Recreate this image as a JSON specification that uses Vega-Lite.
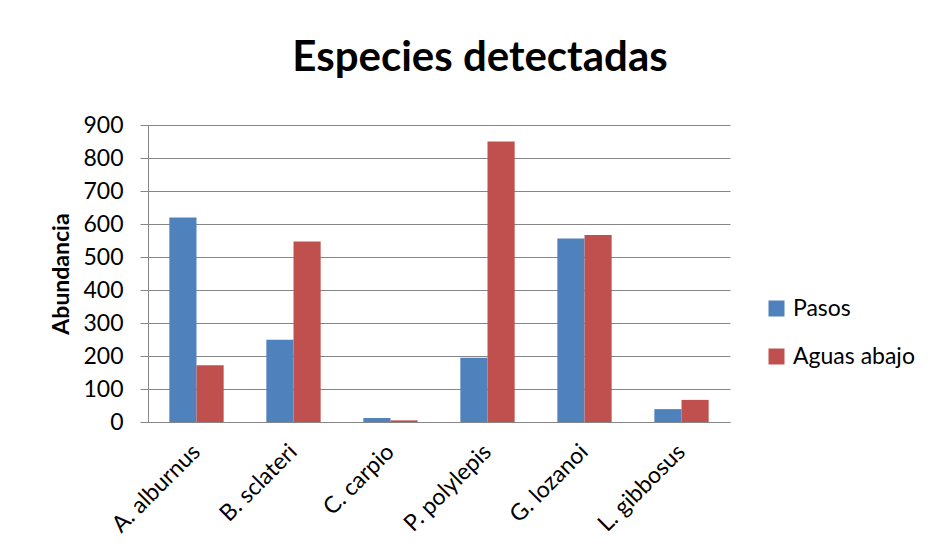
{
  "$schema": "https://vega.github.io/schema/vega-lite/v6.json",
  "autosize": {"type": "none"},
  "width": 582,
  "height": 297,
  "padding": {"left": 148, "top": 125, "right": 209, "bottom": 138},
  "background": "white",
  "title": {
    "text": "Especies detectadas",
    "font": "Lato",
    "fontSize": 42,
    "fontWeight": "bold",
    "color": "black",
    "anchor": "middle",
    "frame": "group",
    "dx": 41,
    "offset": 34
  },
  "data": {
    "values": [
      {"especie": "A. alburnus", "serie": "Pasos", "valor": 620},
      {"especie": "A. alburnus", "serie": "Aguas abajo", "valor": 172},
      {"especie": "B. sclateri", "serie": "Pasos", "valor": 249},
      {"especie": "B. sclateri", "serie": "Aguas abajo", "valor": 547},
      {"especie": "C. carpio", "serie": "Pasos", "valor": 12},
      {"especie": "C. carpio", "serie": "Aguas abajo", "valor": 5},
      {"especie": "P. polylepis", "serie": "Pasos", "valor": 195},
      {"especie": "P. polylepis", "serie": "Aguas abajo", "valor": 850},
      {"especie": "G. lozanoi", "serie": "Pasos", "valor": 556},
      {"especie": "G. lozanoi", "serie": "Aguas abajo", "valor": 567},
      {"especie": "L. gibbosus", "serie": "Pasos", "valor": 39},
      {"especie": "L. gibbosus", "serie": "Aguas abajo", "valor": 67}
    ]
  },
  "mark": {"type": "bar"},
  "encoding": {
    "x": {
      "field": "especie",
      "type": "nominal",
      "sort": null,
      "scale": {"paddingInner": 0.44, "paddingOuter": 0.22},
      "axis": {
        "title": null,
        "labelAngle": -45,
        "labelAlign": "right",
        "labelBaseline": "middle",
        "labelFont": "Lato",
        "labelFontSize": 23,
        "labelColor": "black",
        "labelPadding": 26,
        "ticks": false,
        "domainColor": "#868686",
        "grid": false
      }
    },
    "xOffset": {"field": "serie", "type": "nominal", "sort": ["Pasos", "Aguas abajo"]},
    "y": {
      "field": "valor",
      "type": "quantitative",
      "scale": {"domain": [0, 900], "nice": false},
      "axis": {
        "title": "Abundancia",
        "titleFont": "Lato",
        "titleFontSize": 23,
        "titleFontWeight": "bold",
        "titleColor": "black",
        "titlePadding": 9,
        "values": [0, 100, 200, 300, 400, 500, 600, 700, 800, 900],
        "labelFont": "Lato",
        "labelFontSize": 23,
        "labelColor": "black",
        "labelPadding": 17,
        "tickSize": 8,
        "tickColor": "#868686",
        "domainColor": "#868686",
        "gridColor": "#868686",
        "gridWidth": 1
      }
    },
    "color": {
      "field": "serie",
      "type": "nominal",
      "sort": ["Pasos", "Aguas abajo"],
      "scale": {"domain": ["Pasos", "Aguas abajo"], "range": ["#4F81BD", "#C0504D"]},
      "legend": {
        "title": null,
        "orient": "none",
        "legendX": 617,
        "legendY": 172,
        "symbolType": "square",
        "symbolSize": 256,
        "symbolStrokeWidth": 0,
        "labelFont": "Lato",
        "labelFontSize": 23,
        "labelColor": "black",
        "labelOffset": 5,
        "rowPadding": 24
      }
    }
  },
  "config": {
    "view": {"stroke": null},
    "axis": {"labelOverlap": false}
  }
}
